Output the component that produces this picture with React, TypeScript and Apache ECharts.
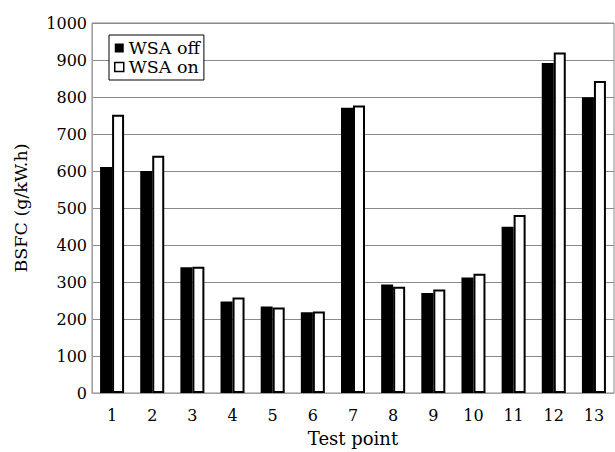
import React, { useEffect, useRef } from "react";
import * as echarts from "echarts";

const categories = ["1", "2", "3", "4", "5", "6", "7", "8", "9", "10", "11", "12", "13"];
const wsaOff = [611, 600, 340, 247, 234, 218, 771, 293, 270, 312, 449, 892, 799];
const wsaOn = [752, 641, 341, 258, 231, 220, 777, 287, 280, 322, 481, 920, 843];
const yTicks = { min: 0, max: 1000, interval: 100 };

const FONT = "DejaVu Serif";

export default function App() {
  const ref = useRef<HTMLDivElement>(null);
  useEffect(() => {
    if (!ref.current) return;
    const chart = echarts.init(ref.current, undefined, { renderer: "svg" });
    chart.setOption({
      animation: false,
      backgroundColor: "#fff",
      textStyle: { fontFamily: FONT },
      grid: {
        left: 92,
        right: 1,
        top: 23,
        bottom: 54,
        show: true,
        borderColor: "#8a8a8a",
        borderWidth: 1,
      },
      legend: {
        orient: "vertical",
        left: 109,
        top: 35,
        padding: [4, 4, 4, 5],
        itemGap: 1,
        itemWidth: 9,
        itemHeight: 9,
        borderColor: "#000",
        borderWidth: 1,
        borderRadius: 0,
        backgroundColor: "#fff",
        icon: "rect",
        textStyle: { fontFamily: FONT, fontSize: 17.5, color: "#000" },
        data: [
          { name: "WSA off", itemStyle: { color: "#000", borderWidth: 0 } },
          { name: "WSA on", itemStyle: { color: "#fff", borderColor: "#000", borderWidth: 1.5 } },
        ],
      },
      xAxis: {
        type: "category",
        data: categories,
        name: "Test point",
        nameLocation: "middle",
        nameGap: 36,
        nameTextStyle: { fontFamily: FONT, fontSize: 18, color: "#000" },
        axisLine: { show: true, lineStyle: { color: "#a0a0a0", width: 1 } },
        axisTick: { show: false },
        axisLabel: { fontFamily: FONT, fontSize: 16, color: "#000", margin: 14 },
        splitLine: { show: false },
      },
      yAxis: {
        type: "value",
        min: yTicks.min,
        max: yTicks.max,
        interval: yTicks.interval,
        name: "BSFC (g/kW.h)",
        nameLocation: "middle",
        nameGap: 62,
        nameTextStyle: { fontFamily: FONT, fontSize: 17.5, color: "#000" },
        axisLine: { show: true, lineStyle: { color: "#a0a0a0", width: 1 } },
        axisTick: { show: false },
        axisLabel: {
          fontFamily: FONT,
          fontSize: 16,
          color: "#000",
          margin: 5,
          formatter: (v: number) => String(v),
        },
        splitLine: { show: true, lineStyle: { color: "#8a8a8a", width: 1 } },
      },
      series: [
        {
          name: "WSA off",
          type: "bar",
          data: wsaOff,
          barWidth: 12,
          barGap: "0%",
          itemStyle: { color: "#000" },
        },
        {
          name: "WSA on",
          type: "bar",
          data: wsaOn,
          barWidth: 12,
          barGap: "0%",
          itemStyle: { color: "#fff", borderColor: "#000", borderWidth: 2 },
        },
      ],
    });
    return () => chart.dispose();
  }, []);
  return <div ref={ref} style={{ width: 615, height: 452, position: "absolute", left: 0, top: 0 }} />;
}
